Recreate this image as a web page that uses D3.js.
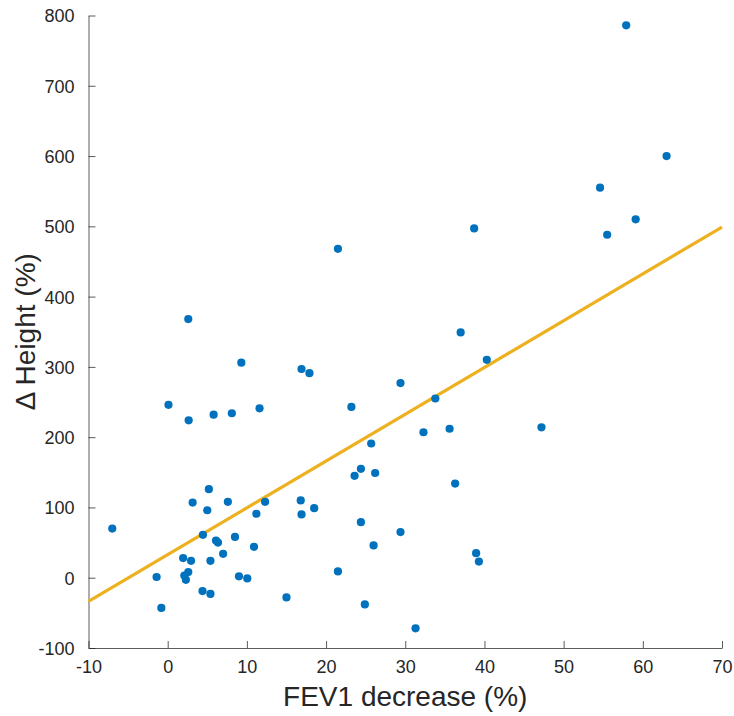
<!DOCTYPE html>
<html>
<head>
<meta charset="utf-8">
<script src="https://cdn.jsdelivr.net/npm/d3@7"></script>
<style>
  html, body { margin: 0; padding: 0; background: #fff; }
  svg { display: block; font-family: "Liberation Sans", Arial, Helvetica, sans-serif; }
</style>
</head>
<body>
<svg id="chart" width="734" height="716"></svg>
<script>
// FEV1 decrease (%) per subject
const fev1Decrease = [
  -7.0, -1.4, -0.8, 0.1, 1.95, 2.1, 2.3, 2.6, 2.6, 2.65, 2.95, 3.15, 4.4, 4.45,
  5.0, 5.2, 5.4, 5.4, 5.8, 6.1, 6.35, 7.0, 7.6, 8.1, 8.5, 9.0, 9.3, 10.05,
  10.9, 11.2, 11.6, 12.3, 15.0, 16.8, 16.9, 16.9, 17.9, 18.5, 21.5, 21.5,
  23.2, 23.6, 24.4, 24.4, 24.9, 25.7, 26.0, 26.2, 29.4, 29.4, 31.3, 32.3,
  33.8, 35.6, 36.3, 37.0, 38.7, 38.95, 39.3, 40.3, 47.2, 54.6, 55.5, 57.9,
  59.1, 63.0
];
// Change in height (%) per subject
const heightChange = [
  70, 1, -43, 246, 28, 3, -3, 8, 368, 224, 24, 107, -19, 61,
  96, 126, 24, -23, 232, 53, 50, 34, 108, 234, 58, 2, 306, -1,
  44, 91, 241, 108, -28, 110, 90, 297, 291, 99, 9, 468,
  243, 145, 155, 79, -38, 191, 46, 149, 277, 65, -72, 207,
  255, 212, 134, 349, 497, 35, 23, 310, 214, 555, 488, 786,
  510, 600
];
// Least-squares fit line: height = slope * fev1 + intercept
const fitSlope = 6.66;
const fitIntercept = 32.8;

const xDomain = [-10, 70];
const yDomain = [-100, 800];
const xTicks = [-10, 0, 10, 20, 30, 40, 50, 60, 70];
const yTicks = [-100, 0, 100, 200, 300, 400, 500, 600, 700, 800];

const svg = d3.select("#chart");
const m = { left: 88.5, right: 722, top: 15.5, bottom: 648 };

const x = d3.scaleLinear().domain(xDomain).range([m.left, m.right]);
const y = d3.scaleLinear().domain(yDomain).range([m.bottom, m.top]);

const axisColor = "#262626";
const tickLen = 7;
// plain hyphen-minus for negative tick labels
const fmt = d => String(d);

// Bottom axis with inward ticks
const xAxis = svg.append("g")
  .attr("transform", `translate(0,${m.bottom})`)
  .call(d3.axisBottom(x).tickValues(xTicks).tickSizeInner(-tickLen).tickSizeOuter(0).tickPadding(tickLen + 4)
    .tickFormat(fmt));
// Left axis with inward ticks
const yAxis = svg.append("g")
  .attr("transform", `translate(${m.left},0)`)
  .call(d3.axisLeft(y).tickValues(yTicks).tickSizeInner(-tickLen).tickSizeOuter(0).tickPadding(tickLen + 7)
    .tickFormat(fmt));

[xAxis, yAxis].forEach(g => {
  g.select(".domain").attr("stroke", axisColor).attr("stroke-opacity", 0.75).attr("stroke-width", 1);
  g.selectAll(".tick line").attr("stroke", axisColor).attr("stroke-opacity", 0.75).attr("stroke-width", 1);
  g.selectAll(".tick text").attr("fill", axisColor).attr("font-size", 18)
    .attr("font-family", "'Liberation Sans', Arial, sans-serif");
});
xAxis.selectAll(".tick text").attr("dy", "0.78em");
yAxis.selectAll(".tick text").attr("dy", "0.36em");

// Regression line across the x range
const plot = svg.append("g");
plot.append("line")
  .attr("x1", x(xDomain[0])).attr("y1", y(fitSlope * xDomain[0] + fitIntercept))
  .attr("x2", x(xDomain[1])).attr("y2", y(fitSlope * xDomain[1] + fitIntercept))
  .attr("stroke", "#EDB120").attr("stroke-width", 3.2);

// Scatter points
const pts = fev1Decrease.map((v, i) => ({ fx: v, hy: heightChange[i] }));
plot.selectAll("circle").data(pts).join("circle")
  .attr("cx", d => x(d.fx))
  .attr("cy", d => y(d.hy))
  .attr("r", 4.1)
  .attr("fill", "#0072BD");

// Axis titles
svg.append("text")
  .attr("x", (m.left + m.right) / 2).attr("y", 706)
  .attr("text-anchor", "middle")
  .attr("font-size", 28).attr("fill", axisColor)
  .text("FEV1 decrease (%)");

svg.append("text")
  .attr("transform", `translate(35,${(m.top + m.bottom) / 2}) rotate(-90)`)
  .attr("text-anchor", "middle")
  .attr("font-size", 28).attr("fill", axisColor)
  .text("Δ Height (%)");
</script>
</body>
</html>
